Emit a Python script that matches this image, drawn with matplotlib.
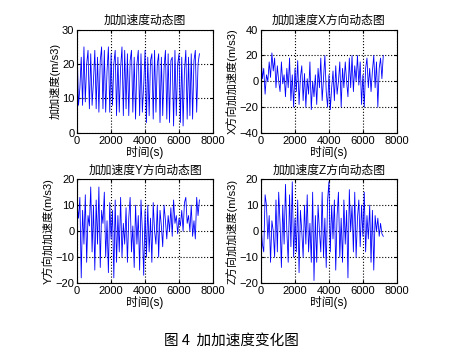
import matplotlib.pyplot as plt

plt.rcParams['font.family'] = ['Liberation Sans', 'Noto Sans CJK SC']

# sample times (s)
t = [0, 80, 160, 240, 320, 400, 480, 560, 640, 720,
     800, 880, 960, 1040, 1120, 1200, 1280, 1360, 1440, 1520,
     1600, 1680, 1760, 1840, 1920, 2000, 2080, 2160, 2240, 2320,
     2400, 2480, 2560, 2640, 2720, 2800, 2880, 2960, 3040, 3120,
     3200, 3280, 3360, 3440, 3520, 3600, 3680, 3760, 3840, 3920,
     4000, 4080, 4160, 4240, 4320, 4400, 4480, 4560, 4640, 4720,
     4800, 4880, 4960, 5040, 5120, 5200, 5280, 5360, 5440, 5520,
     5600, 5680, 5760, 5840, 5920, 6000, 6080, 6160, 6240, 6320,
     6400, 6480, 6560, 6640, 6720, 6800, 6880, 6960, 7040, 7120,
     7200]

# total jerk
jerk = [24, 8, 13, 22, 8, 25, 9, 20, 24, 7,
        23, 8, 15, 24, 7, 22, 6, 21, 25, 7,
        24, 6, 18, 25, 6, 23, 8, 20, 24, 5,
        22, 6, 19, 25, 5, 24, 7, 23, 5, 21,
        24, 6, 22, 4, 20, 24, 5, 23, 6, 14,
        24, 3, 22, 5, 21, 23, 4, 24, 6, 20,
        23, 3, 22, 5, 19, 24, 4, 23, 3, 21,
        22, 2, 24, 5, 20, 23, 3, 22, 2, 18,
        24, 4, 22, 5, 23, 4, 21, 24, 6, 20,
        23]

# X direction
jerk_x = [20, 2, 10, -10, 5, 0, 15, 3, 22, 8,
          18, -5, 12, 0, -8, 15, -2, 5, -12, 10,
          -5, 18, -15, 5, -20, 10, -8, 16, -18, 3,
          12, -15, 6, -20, 2, -10, 15, -22, 0, -12,
          5, -18, 10, -5, 18, -15, 2, 20, -8, -20,
          5, -22, -5, 8, -15, 12, -10, 0, 15, -20,
          10, -5, 15, 0, -12, 18, -5, 20, -8, 12,
          0, 20, -3, 15, -18, 5, -20, 10, 18, -5,
          10, -8, 8, 20, -5, 15, -20, 10, 18, 2,
          20]

# Y direction
jerk_y = [10, 5, 13, -18, 8, -5, 14, -12, 6, 2,
          17, -8, 10, -15, 12, -5, 17, -14, 8, 3,
          15, -10, 4, -16, 11, -3, 8, -18, 12, -12,
          6, -8, 13, -10, 3, -5, 9, -12, 5, 13,
          -8, 2, -14, 10, -5, 6, -15, 12, 0, -17,
          8, -10, 10, -8, 5, -12, 11, 0, -5, 10,
          -10, 8, 2, -6, 10, 4, -3, 6, 0, 9,
          -2, 12, 3, 6, -1, 5, 2, 8, 0, 11,
          13, 3, 6, 0, 10, -2, 4, -3, 13, 6,
          12]

# Z direction
jerk_z = [3, -5, -8, 14, 10, -3, 6, -12, 4, 0,
          -10, 12, -8, 15, 3, -14, 10, -5, 18, 0,
          -12, 14, -6, 19, -10, 5, -8, 12, -16, 8,
          0, -10, 10, -5, 14, -8, 3, -12, 15, -19,
          6, -12, 10, 0, -8, 15, -10, 5, -14, 12,
          19, -8, 10, -3, 12, -15, 6, 15, -10, 5,
          -12, 12, -5, 8, -18, 16, 0, 10, -8, 15,
          -10, 5, 12, -6, 10, -2, 15, -8, 6, -3,
          10, -12, 8, -15, 6, 0, 5, -2, 3, -1,
          -2]

titles = ['加加速度动态图', '加加速度X方向动态图', '加加速度Y方向动态图', '加加速度Z方向动态图']
ylabels = ['加加速度(m/s3)', 'X方向加加速度(m/s3)', 'Y方向加加速度(m/s3)', 'Z方向加加速度(m/s3)']
yticks = [[0, 10, 20, 30], [-40, -20, 0, 20, 40], [-20, -10, 0, 10, 20], [-20, -10, 0, 10, 20]]
series = [jerk, jerk_x, jerk_y, jerk_z]
xticks = [0, 2000, 4000, 6000, 8000]

fig = plt.figure(figsize=(4.62, 3.62), dpi=100)
positions = [[0.167, 0.633, 0.294, 0.285], [0.565, 0.633, 0.294, 0.285],
             [0.167, 0.218, 0.294, 0.287], [0.565, 0.218, 0.294, 0.287]]

for pos, y, title, ylab, yt in zip(positions, series, titles, ylabels, yticks):
    ax = fig.add_axes(pos)
    ax.plot(t, y, color='#0000ff', lw=0.6)
    ax.set_xlim(0, 8000)
    ax.set_ylim(yt[0], yt[-1])
    ax.set_xticks(xticks)
    ax.set_yticks(yt)
    ax.grid(True, linestyle=':', color='black', linewidth=0.8)
    ax.tick_params(direction='in', labelsize=8, length=2, top=True, right=True, pad=2)
    for s in ax.spines.values():
        s.set_linewidth(0.8)
    ax.set_title(title, fontsize=8.5, pad=4)
    ax.set_xlabel('时间(s)', fontsize=8.5, labelpad=0)
    ax.set_ylabel(ylab, fontsize=8, labelpad=1)

fig.text(0.5, 0.06, '图 4  加加速度变化图', ha='center', va='center', fontsize=10.5,
         family=['Noto Sans CJK SC'])

fig.savefig('out.png', dpi=100)
